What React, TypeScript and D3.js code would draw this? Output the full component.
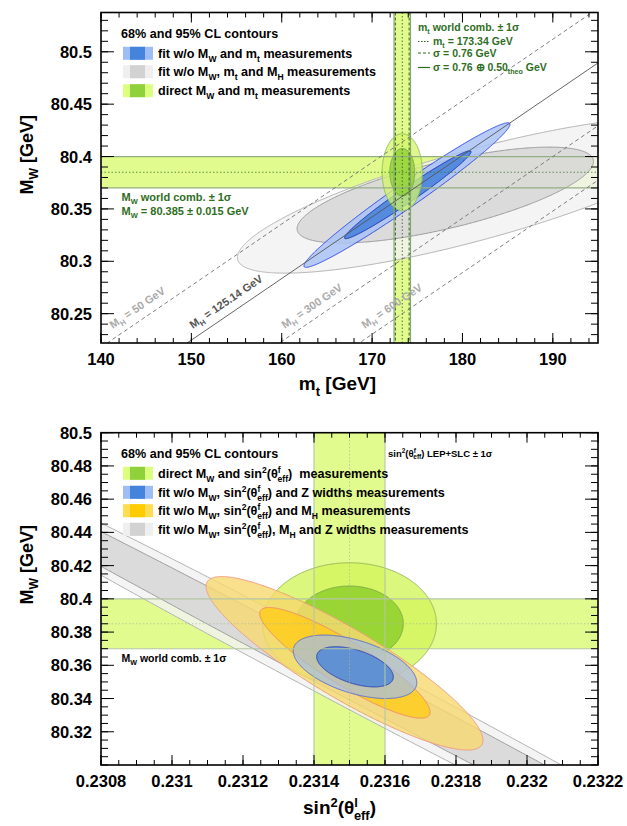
import React from 'react';
import * as d3 from 'd3';

const FONT = '"Liberation Sans", Arial, Helvetica, sans-serif';

// ================= TOP PANEL DATA =================
const topXDomain = [140, 195];
const topYDomain = [80.222, 80.5375];
const topXTicks = [140, 150, 160, 170, 180, 190];
const topXLabels = ['140', '150', '160', '170', '180', '190'];
const topYTicks = [80.25, 80.3, 80.35, 80.4, 80.45, 80.5];
const topYLabels = ['80.25', '80.3', '80.35', '80.4', '80.45', '80.5'];
const topXMinor = 2;
const topYMinor = 0.01;

const mwWorld = 80.385;
const mwErr = 0.015;
const mtWorld = 173.34;
const mtErrExp = 0.76;
const mtErrTot = 0.91;

const mhNames = ['50', '125.14', '300', '600'];
const mhMwAtMtRef = [80.414, 80.362, 80.302, 80.25];
const mhSlope = 0.00588;

// contours: [centre x, centre y, half-width x, half-width y, correlation]
const topGray95 = [181.4, 80.3632, 26.3, 0.0745, 0.8];
const topGray68 = [178.1, 80.3632, 16.4, 0.0458, 0.7];
const topBlue95 = [173.86, 80.3632, 11.4, 0.069, 0.979];
const topBlue68 = [173.95, 80.3635, 7.0, 0.0419, 0.979];
const k68 = 1.515;
const k95 = 2.448;

// ================= BOTTOM PANEL DATA =================
const botXDomain = [0.2308, 0.2322];
const botYDomain = [80.3, 80.5];
const botXTicks = [0.2308, 0.231, 0.2312, 0.2314, 0.2316, 0.2318, 0.232, 0.2322];
const botXLabels = ['0.2308', '0.231', '0.2312', '0.2314', '0.2316', '0.2318', '0.232', '0.2322'];
const botYTicks = [80.32, 80.34, 80.36, 80.38, 80.4, 80.42, 80.44, 80.46, 80.48, 80.5];
const botYLabels = ['80.32', '80.34', '80.36', '80.38', '80.4', '80.42', '80.44', '80.46', '80.48', '80.5'];
const botXMinor = 0.00005;
const botYMinor = 0.005;

const s2World = 0.2315;
const s2Err = 0.0001;

const botGray95 = [0.2315, 80.351, 0.0014955, 0.16957, -0.9945];
const botGray68 = [0.2315, 80.351, 0.0014952, 0.16925, -0.99755];
const botOrange95 = [0.231486, 80.3612, 0.00039, 0.0522, -0.887];
const botOrange68 = [0.231487, 80.3615, 0.00024, 0.0333, -0.89];
const botBlue95 = [0.2315155, 80.3591, 0.000174, 0.0191, -0.5];
const botBlue68 = [0.2315155, 80.3591, 0.000108, 0.0121, -0.5];

// ================= helpers =================
type Part = [string, string?, number?];

function Rich(props: any) {
  const { x, y, size, parts, fill = '#000', anchor = 'start', transform } = props;
  let cur = 0;
  return (
    <text x={x} y={y} fontSize={size} fill={fill} textAnchor={anchor} transform={transform}
      fontFamily={FONT} fontWeight="bold" style={{ whiteSpace: 'pre' }}>
      {parts.map((p: Part, i: number) => {
        const [t, mode, dx] = p;
        let target = 0;
        let fs = size;
        if (mode === 'sub') { target = size * 0.3; fs = size * 0.68; }
        else if (mode === 'sup') { target = -size * 0.38; fs = size * 0.68; }
        const dy = target - cur;
        cur = target;
        return <tspan key={i} dy={dy} dx={dx || 0} fontSize={fs}>{t}</tspan>;
      })}
    </text>
  );
}

function ellipsePath(e: number[], xs: any, ys: any) {
  const [cx, cy, sx, sy, rho] = e;
  const d = Math.acos(rho);
  const pts = d3.range(0, 721).map((i) => {
    const t = (i * Math.PI) / 360;
    return [xs(cx + sx * Math.cos(t)), ys(cy + sy * Math.cos(t + d))] as [number, number];
  });
  return (d3.line()(pts) || '') + 'Z';
}

function minorVals(dom: number[], step: number) {
  const a = Math.ceil(dom[0] / step - 1e-6);
  const b = Math.floor(dom[1] / step + 1e-6);
  return d3.range(a, b + 1).map((i) => i * step);
}

function Axes(props: any) {
  const { xs, ys, xTicks, xLabels, yTicks, yLabels, xMinor, yMinor } = props;
  const [x0, x1] = xs.range();
  const [yb, yt] = ys.range();
  const xM = minorVals(xs.domain(), xMinor);
  const yM = minorVals(ys.domain(), yMinor);
  const els: any[] = [];
  xM.forEach((v, i) => {
    const px = xs(v);
    els.push(<line key={'xm' + i} x1={px} x2={px} y1={yb} y2={yb - 5} />);
    els.push(<line key={'xmt' + i} x1={px} x2={px} y1={yt} y2={yt + 5} />);
  });
  xTicks.forEach((v: number, i: number) => {
    const px = xs(v);
    els.push(<line key={'xM' + i} x1={px} x2={px} y1={yb} y2={yb - 10} />);
    els.push(<line key={'xMt' + i} x1={px} x2={px} y1={yt} y2={yt + 10} />);
  });
  yM.forEach((v, i) => {
    const py = ys(v);
    els.push(<line key={'ym' + i} x1={x0} x2={x0 + 7} y1={py} y2={py} />);
    els.push(<line key={'ymr' + i} x1={x1} x2={x1 - 7} y1={py} y2={py} />);
  });
  yTicks.forEach((v: number, i: number) => {
    const py = ys(v);
    els.push(<line key={'yM' + i} x1={x0} x2={x0 + 13} y1={py} y2={py} />);
    els.push(<line key={'yMr' + i} x1={x1} x2={x1 - 13} y1={py} y2={py} />);
  });
  return (
    <g>
      <g stroke="#000" strokeWidth={1}>{els}</g>
      <rect x={x0} y={yt} width={x1 - x0} height={yb - yt} fill="none" stroke="#000" strokeWidth={1.6} />
      <g fontFamily={FONT} fontWeight="bold" fontSize={16.5} fill="#000">
        {xTicks.map((v: number, i: number) => (
          <text key={'xl' + i} x={xs(v)} y={yb + 22} textAnchor="middle">{xLabels[i]}</text>
        ))}
        {yTicks.map((v: number, i: number) => (
          <text key={'yl' + i} x={x0 - 9} y={ys(v) + 6} textAnchor="end">{yLabels[i]}</text>
        ))}
      </g>
    </g>
  );
}

function Swatch({ x, y, light, dark }: any) {
  return (
    <g>
      <rect x={x} y={y - 6.5} width={30} height={13} fill={light} />
      <rect x={x + 7} y={y - 6.5} width={15} height={13} fill={dark} />
    </g>
  );
}

export default function App() {
  const xT = d3.scaleLinear().domain(topXDomain).range([101, 598]);
  const yT = d3.scaleLinear().domain(topYDomain).range([343, 12.5]);
  const xB = d3.scaleLinear().domain(botXDomain).range([101, 598]);
  const yB = d3.scaleLinear().domain(botYDomain).range([765, 432.7]);

  const bandFill = '#e2fb8e';
  const darkGreen = '#2f6e1f';
  const LS = 12.6;

  // ----- top panel pieces -----
  const mhLine = (ref: number) =>
    d3.line()(topXDomain.map((m) => [xT(m), yT(ref + mhSlope * (m - mtWorld))] as [number, number])) || '';
  const slopePx = (mhSlope * (yT(0) - yT(1))) / (xT(1) - xT(0));
  const angle = (-Math.atan(slopePx) * 180) / Math.PI;
  const labelY = 329;

  const green95T = [mtWorld, mwWorld, k95 * mtErrTot, k95 * mwErr, 0];
  const green68T = [mtWorld, mwWorld, k68 * mtErrTot, k68 * mwErr, 0];
  const green95B = [s2World, mwWorld, k95 * s2Err, k95 * mwErr, 0];
  const green68B = [s2World, mwWorld, k68 * s2Err, k68 * mwErr, 0];

  const [tx0, tx1] = xT.range();
  const [ty0, ty1] = yT.range();
  const [bx0, bx1] = xB.range();
  const [by0, by1] = yB.range();

  return (
    <svg width={627} height={826} style={{ position: 'absolute', left: 0, top: 0, background: '#fff' }}>
      <defs>
        <clipPath id="clipT"><rect x={tx0} y={ty1} width={tx1 - tx0} height={ty0 - ty1} /></clipPath>
        <clipPath id="clipB"><rect x={bx0} y={by1} width={bx1 - bx0} height={by0 - by1} /></clipPath>
      </defs>
      <rect x={0} y={0} width={627} height={826} fill="#fff" />

      {/* ================= TOP ================= */}
      <g clipPath="url(#clipT)">
        <rect x={tx0} y={yT(mwWorld + mwErr)} width={tx1 - tx0} height={yT(mwWorld - mwErr) - yT(mwWorld + mwErr)} fill={bandFill} />
        <rect x={xT(mtWorld - mtErrTot)} y={ty1} width={xT(mtWorld + mtErrTot) - xT(mtWorld - mtErrTot)} height={ty0 - ty1} fill={bandFill} />

        <path d={ellipsePath(topGray95, xT, yT)} fill="#f1f1f1" fillOpacity={0.82} stroke="#b4b4b4" strokeWidth={1} />
        <path d={ellipsePath(topGray68, xT, yT)} fill="#d5d5d5" fillOpacity={0.8} stroke="#999" strokeWidth={1} />
        <path d={ellipsePath(topBlue95, xT, yT)} fill="#a9c3f6" fillOpacity={0.85} stroke="#3048e0" strokeWidth={1} />
        <path d={ellipsePath(topBlue68, xT, yT)} fill="#4a84dc" fillOpacity={0.9} stroke="#1c2fb0" strokeWidth={1} />
        <path d={ellipsePath(green95T, xT, yT)} fill="#d3f56a" fillOpacity={0.75} stroke="#8cbc54" strokeWidth={1} />
        <path d={ellipsePath(green68T, xT, yT)} fill="#8fcf34" fillOpacity={0.8} stroke="#79a850" strokeWidth={1} />

        {/* band lines */}
        <line x1={tx0} x2={tx1} y1={yT(mwWorld + mwErr)} y2={yT(mwWorld + mwErr)} stroke="#94ae84" strokeWidth={1.2} />
        <line x1={tx0} x2={tx1} y1={yT(mwWorld - mwErr)} y2={yT(mwWorld - mwErr)} stroke="#94ae84" strokeWidth={1.2} />
        <line x1={tx0} x2={tx1} y1={yT(mwWorld)} y2={yT(mwWorld)} stroke="#3d7a2c" strokeWidth={0.8} strokeDasharray="1.5,2" />
        {[mtWorld - mtErrTot, mtWorld + mtErrTot].map((v, i) => (
          <line key={'vt' + i} x1={xT(v)} x2={xT(v)} y1={ty1} y2={ty0} stroke="#86a474" strokeWidth={1.2} />
        ))}
        {[mtWorld - mtErrExp, mtWorld + mtErrExp].map((v, i) => (
          <line key={'vd' + i} x1={xT(v)} x2={xT(v)} y1={ty1} y2={ty0} stroke="#24561a" strokeWidth={0.9} strokeDasharray="3,2" />
        ))}
        <line x1={xT(mtWorld)} x2={xT(mtWorld)} y1={ty1} y2={ty0} stroke="#24561a" strokeWidth={0.8} strokeDasharray="1.5,2" />

        {/* MH lines */}
        {mhMwAtMtRef.map((ref, i) => (
          <path key={'mh' + i} d={mhLine(ref)} fill="none" stroke={i === 1 ? '#555' : '#707070'} strokeWidth={0.9}
            strokeDasharray={i === 1 ? undefined : '4,3'} />
        ))}
      </g>

      {mhMwAtMtRef.map((ref, i) => {
        const mw = yT.invert(labelY);
        const mt = mtWorld + (mw - ref) / mhSlope;
        const px = xT(mt) - 15;
        return (
          <Rich key={'mhl' + i} x={px} y={labelY} size={11} fill={i === 1 ? '#555' : '#aaa'}
            transform={`rotate(${angle} ${px} ${labelY})`}
            parts={[['M'], ['H', 'sub'], [' = ' + mhNames[i] + ' GeV']]} />
        );
      })}

      {/* top legend */}
      <text x={121} y={37.5} fontFamily={FONT} fontWeight="bold" fontSize={LS}>68% and 95% CL contours</text>
      <Swatch x={123} y={53.3} light="#9ebdf6" dark="#4484dc" />
      <Swatch x={123} y={71.7} light="#efefef" dark="#d2d2d2" />
      <Swatch x={123} y={90.7} light="#dcff80" dark="#8fd13a" />
      <Rich x={158} y={57.8} size={LS} parts={[['fit w/o M'], ['W', 'sub'], [' and m'], ['t', 'sub'], [' measurements']]} />
      <Rich x={158} y={76.2} size={LS} parts={[['fit w/o M'], ['W', 'sub'], [', m'], ['t', 'sub'], [' and M'], ['H', 'sub'], [' measurements']]} />
      <Rich x={158} y={95.2} size={LS} parts={[['direct M'], ['W', 'sub'], [' and m'], ['t', 'sub'], [' measurements']]} />

      {/* mt world comb legend */}
      <Rich x={418} y={30.5} size={10.5} fill={darkGreen} parts={[['m'], ['t', 'sub'], [' world comb. \u00b1 1\u03c3']]} />
      <line x1={418} x2={430} y1={41.5} y2={41.5} stroke={darkGreen} strokeWidth={1} strokeDasharray="1.5,1.5" />
      <line x1={418} x2={430} y1={53} y2={53} stroke={darkGreen} strokeWidth={1} strokeDasharray="3,2" />
      <line x1={418} x2={430} y1={67.5} y2={67.5} stroke={darkGreen} strokeWidth={1.2} />
      <Rich x={433} y={45} size={10.5} fill={darkGreen} parts={[['m'], ['t', 'sub'], [' = 173.34 GeV']]} />
      <Rich x={433} y={56.5} size={10.5} fill={darkGreen} parts={[['\u03c3 = 0.76 GeV']]} />
      <Rich x={433} y={71} size={10.5} fill={darkGreen} parts={[['\u03c3 = 0.76 \u2295 0.50'], ['theo', 'sub'], [' GeV']]} />

      {/* MW world comb label */}
      <Rich x={121.5} y={200.5} size={11} fill={darkGreen} parts={[['M'], ['W', 'sub'], [' world comb. \u00b1 1\u03c3']]} />
      <Rich x={121.5} y={214.5} size={11} fill={darkGreen} parts={[['M'], ['W', 'sub'], [' = 80.385 \u00b1 0.015 GeV']]} />

      <Axes xs={xT} ys={yT} xTicks={topXTicks} xLabels={topXLabels} yTicks={topYTicks} yLabels={topYLabels}
        xMinor={topXMinor} yMinor={topYMinor} />
      <Rich x={376} y={390} size={19} anchor="end" parts={[['m'], ['t', 'sub'], [' [GeV]']]} />
      <Rich x={33} y={115} size={18} anchor="end" transform="rotate(-90 33 115)" parts={[['M'], ['W', 'sub'], [' [GeV]']]} />

      {/* ================= BOTTOM ================= */}
      <g clipPath="url(#clipB)">
        <rect x={bx0} y={yB(mwWorld + mwErr)} width={bx1 - bx0} height={yB(mwWorld - mwErr) - yB(mwWorld + mwErr)} fill={bandFill} />
        <rect x={xB(s2World - s2Err)} y={by1} width={xB(s2World + s2Err) - xB(s2World - s2Err)} height={by0 - by1} fill={bandFill} />

        <path d={ellipsePath(botGray95, xB, yB)} fill="#f1f1f1" fillOpacity={0.82} stroke="#b4b4b4" strokeWidth={1} />
        <path d={ellipsePath(botGray68, xB, yB)} fill="#d6d6d6" fillOpacity={0.82} stroke="#a0a0a0" strokeWidth={1} />
        <path d={ellipsePath(green95B, xB, yB)} fill="#d3f55c" fillOpacity={0.8} stroke="#96b85a" strokeWidth={1} />
        <path d={ellipsePath(green68B, xB, yB)} fill="#8fcf2e" fillOpacity={0.85} stroke="#7ea84a" strokeWidth={1} />
        <path d={ellipsePath(botOrange95, xB, yB)} fill="#f8d870" fillOpacity={0.8} stroke="#f29a80" strokeWidth={1} />
        <path d={ellipsePath(botOrange68, xB, yB)} fill="#ffcc1e" fillOpacity={0.85} stroke="#f08a70" strokeWidth={1} />
        <path d={ellipsePath(botBlue95, xB, yB)} fill="#a3bde8" fillOpacity={0.72} stroke="#5a6ad2" strokeWidth={1} />
        <path d={ellipsePath(botBlue68, xB, yB)} fill="#4f88d8" fillOpacity={0.85} stroke="#3040b0" strokeWidth={1} />

        <line x1={bx0} x2={bx1} y1={yB(mwWorld + mwErr)} y2={yB(mwWorld + mwErr)} stroke="#b4c6a4" strokeWidth={1.1} />
        <line x1={bx0} x2={bx1} y1={yB(mwWorld - mwErr)} y2={yB(mwWorld - mwErr)} stroke="#b4c6a4" strokeWidth={1.1} />
        <line x1={bx0} x2={bx1} y1={yB(mwWorld)} y2={yB(mwWorld)} stroke="#a8b898" strokeWidth={0.7} strokeDasharray="1.5,2" />
        <line x1={xB(s2World - s2Err)} x2={xB(s2World - s2Err)} y1={by1} y2={by0} stroke="#b4c6a4" strokeWidth={1.1} />
        <line x1={xB(s2World + s2Err)} x2={xB(s2World + s2Err)} y1={by1} y2={by0} stroke="#b4c6a4" strokeWidth={1.1} />
        <line x1={xB(s2World)} x2={xB(s2World)} y1={by1} y2={by0} stroke="#a8b898" strokeWidth={0.7} strokeDasharray="1.5,2" />
      </g>

      <text x={121} y={458.3} fontFamily={FONT} fontWeight="bold" fontSize={LS}>68% and 95% CL contours</text>
      <Swatch x={123} y={473.3} light="#dcff80" dark="#8fd13a" />
      <Swatch x={123} y={492.3} light="#9ebdf6" dark="#4484dc" />
      <Swatch x={123} y={510.7} light="#ffdd50" dark="#ffcc00" />
      <Swatch x={123} y={529.3} light="#efefef" dark="#d2d2d2" />
      <Rich x={158} y={477.8} size={LS} parts={[['direct M'], ['W', 'sub'], [' and sin'], ['2', 'sup'], ['(\u03b8'], ['f', 'sup'], ['eff', 'sub', -3], [')  measurements']]} />
      <Rich x={158} y={496.8} size={LS} parts={[['fit w/o M'], ['W', 'sub'], [', sin'], ['2', 'sup'], ['(\u03b8'], ['f', 'sup'], ['eff', 'sub', -3], [') and Z widths measurements']]} />
      <Rich x={158} y={515.2} size={LS} parts={[['fit w/o M'], ['W', 'sub'], [', sin'], ['2', 'sup'], ['(\u03b8'], ['f', 'sup'], ['eff', 'sub', -3], [') and M'], ['H', 'sub'], [' measurements']]} />
      <Rich x={158} y={533.8} size={LS} parts={[['fit w/o M'], ['W', 'sub'], [', sin'], ['2', 'sup'], ['(\u03b8'], ['f', 'sup'], ['eff', 'sub', -3], ['), M'], ['H', 'sub'], [' and Z widths measurements']]} />

      <Rich x={388} y={456.5} size={9.5} parts={[['sin'], ['2', 'sup'], ['(\u03b8'], ['f', 'sup'], ['eff', 'sub', -2.5], [') LEP+SLC \u00b1 1\u03c3']]} />
      <Rich x={121.5} y={662} size={10.5} parts={[['M'], ['W', 'sub'], [' world comb. \u00b1 1\u03c3']]} />

      <Axes xs={xB} ys={yB} xTicks={botXTicks} xLabels={botXLabels} yTicks={botYTicks} yLabels={botYLabels}
        xMinor={botXMinor} yMinor={botYMinor} />
      <Rich x={376} y={814} size={19} anchor="end" parts={[['sin'], ['2', 'sup'], ['(\u03b8'], ['l', 'sup'], ['eff', 'sub', -4], [')']]} />
      <Rich x={33} y={525} size={18} anchor="end" transform="rotate(-90 33 525)" parts={[['M'], ['W', 'sub'], [' [GeV]']]} />
    </svg>
  );
}
